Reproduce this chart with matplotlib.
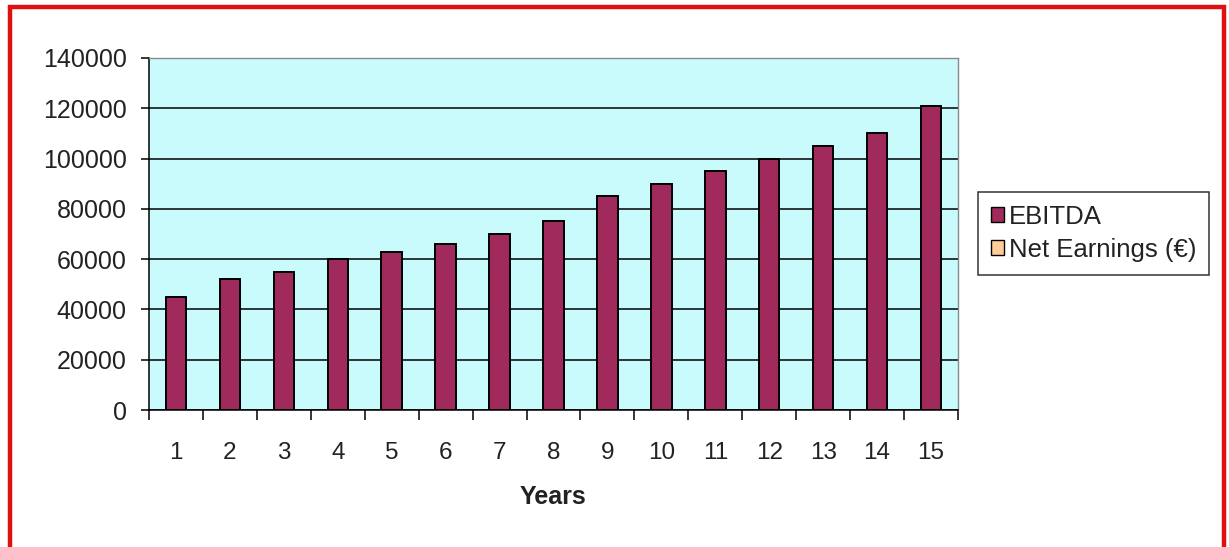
import matplotlib
matplotlib.use("Agg")
import matplotlib.pyplot as plt
from matplotlib.patches import Rectangle, Patch
from matplotlib.ticker import FixedLocator, NullFormatter

# Financial projection data
year_labels = ["1", "2", "3", "4", "5", "6", "7", "8", "9", "10", "11", "12", "13", "14", "15"]
ebitda = [45000, 52000, 55000, 60000, 63000, 66000, 70000, 75000,
          85000, 90000, 95000, 100000, 105000, 110000, 121000]
net_earnings = [0, 0, 0, 0, 0, 0, 0, 0, 0, 0, 0, 0, 0, 0, 0]
y_ticks = [0, 20000, 40000, 60000, 80000, 100000, 120000, 140000]
x_title = "Years"
series_names = ["EBITDA", "Net Earnings (\u20ac)"]

W, H = 1229, 547
DPI = 100
plt.rcParams["font.family"] = ["Liberation Sans", "DejaVu Sans"]

fig = plt.figure(figsize=(W / DPI, H / DPI), dpi=DPI)
fig.patch.set_facecolor("white")

# red frame around the chart
fig.patches.append(Rectangle((10 / W, -0.05), (1224 - 10) / W, (547 - 7) / H + 0.05,
                             transform=fig.transFigure, fill=False,
                             edgecolor="#E01010", linewidth=3.2, zorder=0))

left, right, top, bottom = 149, 958, 58, 410
ax = fig.add_axes([left / W, (H - bottom) / H, (right - left) / W, (bottom - top) / H])
ax.set_facecolor("#C9FBFD")

EBITDA_COLOR = "#A02A5C"
NET_COLOR = "#FFCC99"

x = list(range(len(year_labels)))
bw = 0.38
ax.bar(x, net_earnings, width=bw, color=NET_COLOR, edgecolor="black", linewidth=1.4, zorder=3)
ax.bar(x, ebitda, width=bw, bottom=net_earnings, color=EBITDA_COLOR,
       edgecolor="black", linewidth=1.4, zorder=3)

ax.set_xlim(-0.5, len(year_labels) - 0.5)
ax.set_ylim(y_ticks[0], y_ticks[-1])

# y axis
ax.set_yticks(y_ticks)
ax.set_yticklabels([str(v) for v in y_ticks], fontsize=18)
ax.yaxis.grid(True, color="black", linewidth=1.1, zorder=1)
ax.set_axisbelow(True)
ax.tick_params(axis="y", direction="out", length=6, width=1.1, pad=10, colors="black",
               labelcolor="#222222")

# x axis: tick marks between categories, labels centered on categories
ax.xaxis.set_major_locator(FixedLocator([i - 0.5 for i in range(len(year_labels) + 1)]))
ax.xaxis.set_major_formatter(NullFormatter())
ax.xaxis.set_minor_locator(FixedLocator(x))
ax.set_xticklabels(year_labels, minor=True, fontsize=17.5, color="#222222")
ax.tick_params(axis="x", which="major", direction="out", length=7.5, width=1.1)
ax.tick_params(axis="x", which="minor", length=0, pad=23)

for s in ("left", "bottom"):
    ax.spines[s].set_color("black")
    ax.spines[s].set_linewidth(1.1)
for s in ("top", "right"):
    ax.spines[s].set_color("#8A8A8A")
    ax.spines[s].set_linewidth(1.0)

fig.text(((left + right) / 2) / W, 1 - 497 / H, x_title, ha="center", va="center",
         fontsize=18, fontweight="bold", color="#222222")

handles = [Patch(facecolor=EBITDA_COLOR, edgecolor="black", linewidth=1.0),
           Patch(facecolor=NET_COLOR, edgecolor="black", linewidth=1.0)]
leg = fig.legend(handles, series_names, loc="upper left",
                 bbox_to_anchor=(978 / W, 1 - 192 / H), bbox_transform=fig.transFigure,
                 fontsize=18.5, frameon=True, fancybox=False, borderaxespad=0,
                 handlelength=0.5, handleheight=0.5, handletextpad=0.2,
                 labelspacing=0.35, borderpad=0.5)
leg.get_frame().set_edgecolor("black")
leg.get_frame().set_linewidth(1.1)
for t in leg.get_texts():
    t.set_color("#222222")

fig.savefig("out.png", dpi=DPI)
